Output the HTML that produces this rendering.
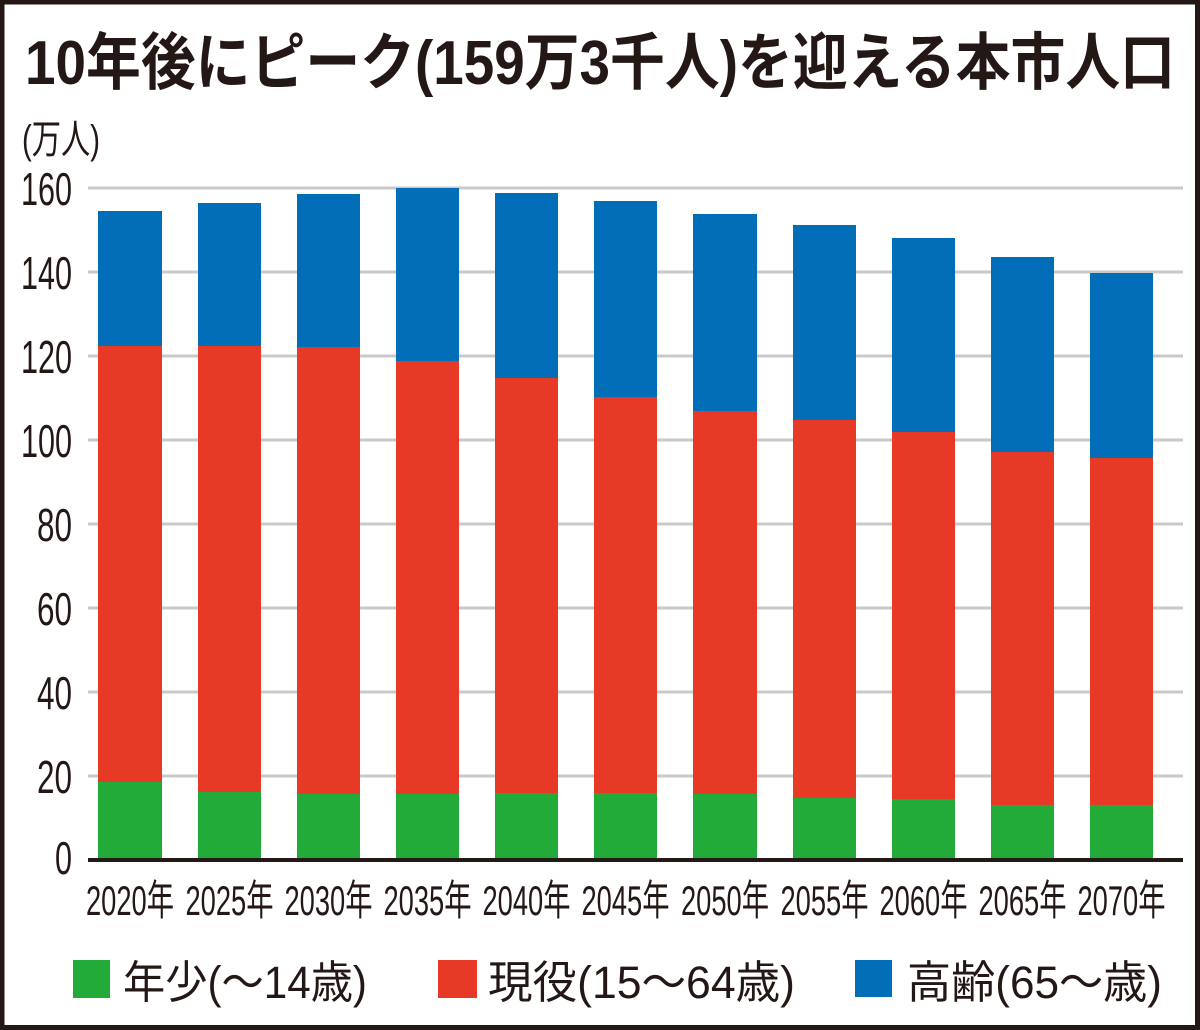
<!DOCTYPE html>
<html>
<head>
<meta charset="utf-8">
<style>
html,body{margin:0;padding:0;background:#fff;}
svg{display:block;}
</style>
</head>
<body>
<svg width="1200" height="1030" viewBox="0 0 1200 1030" xmlns="http://www.w3.org/2000/svg">
  <rect x="0" y="0" width="1200" height="1030" fill="#fff"/>
  <rect x="2" y="2" width="1195.5" height="1025.5" fill="none" stroke="#231815" stroke-width="5"/>

  <text x="25" y="84" font-family="'Liberation Sans','Noto Sans CJK JP',sans-serif" font-weight="bold" font-size="62" fill="#231815" textLength="1150" lengthAdjust="spacingAndGlyphs">10年後にピーク(159万3千人)を迎える本市人口</text>

  <text x="22" y="153" font-family="'Liberation Sans','Noto Sans CJK JP',sans-serif" font-size="40" fill="#231815" textLength="78" lengthAdjust="spacingAndGlyphs">(万人)</text>

  <g stroke="#c9c9c9" stroke-width="3">
    <line x1="88" y1="188" x2="1183" y2="188"/>
    <line x1="88" y1="272" x2="1183" y2="272"/>
    <line x1="88" y1="356" x2="1183" y2="356"/>
    <line x1="88" y1="440" x2="1183" y2="440"/>
    <line x1="88" y1="524" x2="1183" y2="524"/>
    <line x1="88" y1="608" x2="1183" y2="608"/>
    <line x1="88" y1="692" x2="1183" y2="692"/>
    <line x1="88" y1="776" x2="1183" y2="776"/>
  </g>

  <g font-family="'Liberation Sans',sans-serif" font-size="46" fill="#231815" text-anchor="end">
    <text x="72" y="205" textLength="51" lengthAdjust="spacingAndGlyphs">160</text>
    <text x="72" y="289" textLength="51" lengthAdjust="spacingAndGlyphs">140</text>
    <text x="72" y="373" textLength="51" lengthAdjust="spacingAndGlyphs">120</text>
    <text x="72" y="457" textLength="51" lengthAdjust="spacingAndGlyphs">100</text>
    <text x="72" y="541" textLength="35" lengthAdjust="spacingAndGlyphs">80</text>
    <text x="72" y="625" textLength="35" lengthAdjust="spacingAndGlyphs">60</text>
    <text x="72" y="709" textLength="35" lengthAdjust="spacingAndGlyphs">40</text>
    <text x="72" y="793" textLength="35" lengthAdjust="spacingAndGlyphs">20</text>
    <text x="72" y="874" textLength="17" lengthAdjust="spacingAndGlyphs">0</text>
  </g>

  <g>
    <rect x="98" y="211" width="64" height="135" fill="#036eb8"/>
    <rect x="98" y="346" width="64" height="436" fill="#e63a27"/>
    <rect x="98" y="782" width="64" height="76" fill="#23ab3a"/>
    <rect x="198" y="203" width="63" height="143" fill="#036eb8"/>
    <rect x="198" y="346" width="63" height="446" fill="#e63a27"/>
    <rect x="198" y="792" width="63" height="66" fill="#23ab3a"/>
    <rect x="297" y="194" width="63" height="153" fill="#036eb8"/>
    <rect x="297" y="347" width="63" height="447" fill="#e63a27"/>
    <rect x="297" y="794" width="63" height="64" fill="#23ab3a"/>
    <rect x="396" y="188" width="63" height="173" fill="#036eb8"/>
    <rect x="396" y="361" width="63" height="433" fill="#e63a27"/>
    <rect x="396" y="794" width="63" height="64" fill="#23ab3a"/>
    <rect x="495" y="193" width="63" height="185" fill="#036eb8"/>
    <rect x="495" y="378" width="63" height="415" fill="#e63a27"/>
    <rect x="495" y="793" width="63" height="65" fill="#23ab3a"/>
    <rect x="594" y="201" width="63" height="196" fill="#036eb8"/>
    <rect x="594" y="397" width="63" height="396" fill="#e63a27"/>
    <rect x="594" y="793" width="63" height="65" fill="#23ab3a"/>
    <rect x="693" y="214" width="64" height="197" fill="#036eb8"/>
    <rect x="693" y="411" width="64" height="383" fill="#e63a27"/>
    <rect x="693" y="794" width="64" height="64" fill="#23ab3a"/>
    <rect x="793" y="225" width="63" height="195" fill="#036eb8"/>
    <rect x="793" y="420" width="63" height="378" fill="#e63a27"/>
    <rect x="793" y="798" width="63" height="60" fill="#23ab3a"/>
    <rect x="892" y="238" width="63" height="194" fill="#036eb8"/>
    <rect x="892" y="432" width="63" height="367" fill="#e63a27"/>
    <rect x="892" y="799" width="63" height="59" fill="#23ab3a"/>
    <rect x="991" y="257" width="63" height="195" fill="#036eb8"/>
    <rect x="991" y="452" width="63" height="353" fill="#e63a27"/>
    <rect x="991" y="805" width="63" height="53" fill="#23ab3a"/>
    <rect x="1090" y="273" width="63" height="185" fill="#036eb8"/>
    <rect x="1090" y="458" width="63" height="347" fill="#e63a27"/>
    <rect x="1090" y="805" width="63" height="53" fill="#23ab3a"/>
  </g>

  <rect x="88" y="858" width="1095" height="4" fill="#231815"/>

  <g font-family="'Liberation Sans','Noto Sans CJK JP',sans-serif" font-size="42" fill="#231815" text-anchor="middle">
    <text x="130" y="915" textLength="88" lengthAdjust="spacingAndGlyphs">2020年</text>
    <text x="229.5" y="915" textLength="88" lengthAdjust="spacingAndGlyphs">2025年</text>
    <text x="328.5" y="915" textLength="88" lengthAdjust="spacingAndGlyphs">2030年</text>
    <text x="427.5" y="915" textLength="88" lengthAdjust="spacingAndGlyphs">2035年</text>
    <text x="526.5" y="915" textLength="88" lengthAdjust="spacingAndGlyphs">2040年</text>
    <text x="625.5" y="915" textLength="88" lengthAdjust="spacingAndGlyphs">2045年</text>
    <text x="725" y="915" textLength="88" lengthAdjust="spacingAndGlyphs">2050年</text>
    <text x="824.5" y="915" textLength="88" lengthAdjust="spacingAndGlyphs">2055年</text>
    <text x="923.5" y="915" textLength="88" lengthAdjust="spacingAndGlyphs">2060年</text>
    <text x="1022.5" y="915" textLength="88" lengthAdjust="spacingAndGlyphs">2065年</text>
    <text x="1121.5" y="915" textLength="88" lengthAdjust="spacingAndGlyphs">2070年</text>
  </g>

  <rect x="73" y="960" width="37" height="38" fill="#23ab3a"/>
  <rect x="438" y="960" width="39" height="38" fill="#e63a27"/>
  <rect x="855" y="960" width="37" height="37" fill="#036eb8"/>
  <g font-family="'Liberation Sans','Noto Sans CJK JP',sans-serif" font-size="45" fill="#231815">
    <text x="123" y="998" textLength="244" lengthAdjust="spacingAndGlyphs">年少(〜14歳)</text>
    <text x="488" y="998" textLength="307" lengthAdjust="spacingAndGlyphs">現役(15〜64歳)</text>
    <text x="907" y="998" textLength="255" lengthAdjust="spacingAndGlyphs">高齢(65〜歳)</text>
  </g>
</svg>
</body>
</html>
